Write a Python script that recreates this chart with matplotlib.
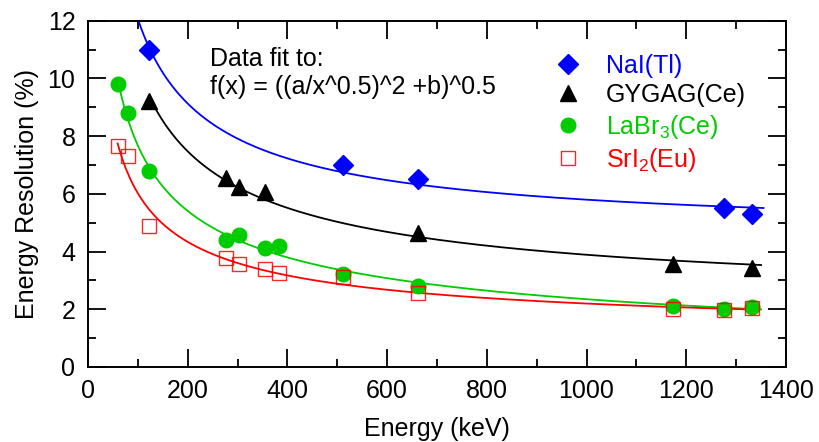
import matplotlib
matplotlib.use('Agg')
import matplotlib.pyplot as plt
import numpy as np

plt.rcParams['font.family'] = ['Liberation Sans', 'DejaVu Sans']
plt.rcParams['mathtext.fontset'] = 'custom'
plt.rcParams['mathtext.rm'] = 'Liberation Sans'
plt.rcParams['mathtext.it'] = 'Liberation Sans:italic'
plt.rcParams['mathtext.bf'] = 'Liberation Sans:bold'

# ---------------- data ----------------
nai_e = [122, 511, 662, 1275, 1332]
nai_r = [11.0, 7.0, 6.5, 5.5, 5.3]

gygag_e = [122, 276, 303, 356, 662, 1173, 1332]
gygag_r = [9.2, 6.54, 6.25, 6.08, 4.65, 3.57, 3.42]

labr_e = [59.5, 81, 122, 276, 303, 356, 384, 511, 662, 1173, 1275, 1332]
labr_r = [9.8, 8.8, 6.8, 4.4, 4.58, 4.11, 4.2, 3.22, 2.82, 2.13, 2.0, 2.08]

sri_e = [59.5, 81, 122, 276, 303, 356, 384, 511, 662, 1173, 1275, 1332]
sri_r = [7.67, 7.3, 4.89, 3.77, 3.57, 3.38, 3.25, 3.12, 2.55, 2.0, 1.98, 2.03]

labels = ['NaI(Tl)', 'GYGAG(Ce)', 'LaBr$_3$(Ce)', 'SrI$_2$(Eu)']
colors = ['#0000ff', '#000000', '#00cc00', '#ff0000']
# energy range of each fit curve
fit_lo = [100, 122, 59.5, 59.5]
fit_hi = [1355, 1350, 1350, 1335]

# ---------------- plot ----------------
fig = plt.figure(figsize=(8.2, 4.42), dpi=100)
ax = fig.add_axes([0.1073, 0.1697, 0.8512, 0.7835])

sets = [(nai_e, nai_r), (gygag_e, gygag_r), (labr_e, labr_r), (sri_e, sri_r)]
handles = []
for i, (e, r) in enumerate(sets):
    e = np.array(e, float)
    r = np.array(r, float)
    # f(x) = sqrt(a^2/x + b) -> f^2 linear in 1/x, weighted so residuals ~ in f
    slope, icpt = np.polyfit(1.0 / e, r ** 2, 1, w=1.0 / (2 * r))
    xx = np.linspace(fit_lo[i], fit_hi[i], 400)
    yy = np.sqrt(slope / xx + icpt)
    ax.plot(xx, yy, color=colors[i], lw=1.3, zorder=2)

for i, (e, r) in enumerate(sets):
    if i == 0:
        h, = ax.plot(e, r, 'D', ms=10.5, color=colors[0], mec=colors[0], ls='none', zorder=3)
    elif i == 1:
        h, = ax.plot(e, r, '^', ms=12, color=colors[1], ls='none', zorder=3)
    elif i == 2:
        h, = ax.plot(e, r, 'o', ms=10.5, color=colors[2], ls='none', zorder=3)
    else:
        h, = ax.plot(e, r, 's', ms=10.5, mfc='none', mec=colors[3], mew=1.0,
                     alpha=0.85, ls='none', zorder=4)
    handles.append(h)

ax.set_xlim(0, 1400)
ax.set_ylim(0, 12)
ax.set_xticks(np.arange(0, 1401, 200))
ax.set_xticks(np.arange(0, 1401, 100), minor=True)
ax.set_yticks(np.arange(0, 13, 2))
ax.set_yticks(np.arange(0, 13, 1), minor=True)
ax.tick_params(which='both', direction='in', top=True, right=True, width=1.3, labelsize=18)
ax.tick_params(which='major', length=13, pad=9)
ax.tick_params(which='minor', length=6)
for s in ax.spines.values():
    s.set_linewidth(1.4)

ax.set_xlabel('Energy (keV)', fontsize=18, labelpad=10)
ax.set_ylabel('Energy Resolution (%)', fontsize=18, labelpad=6)

ax.text(245, 11.1, 'Data fit to:\nf(x) = ((a/x^0.5)^2 +b)^0.5', fontsize=18,
        va='top', ha='left', linespacing=1.25)

ax.legend(handles, labels, loc='upper left', bbox_to_anchor=(0.67, 0.905),
          frameon=False, fontsize=18, handlelength=1.0, handletextpad=1.0,
          labelspacing=0.22, borderpad=0, borderaxespad=0, labelcolor=colors)

fig.savefig('out.png', dpi=100)
